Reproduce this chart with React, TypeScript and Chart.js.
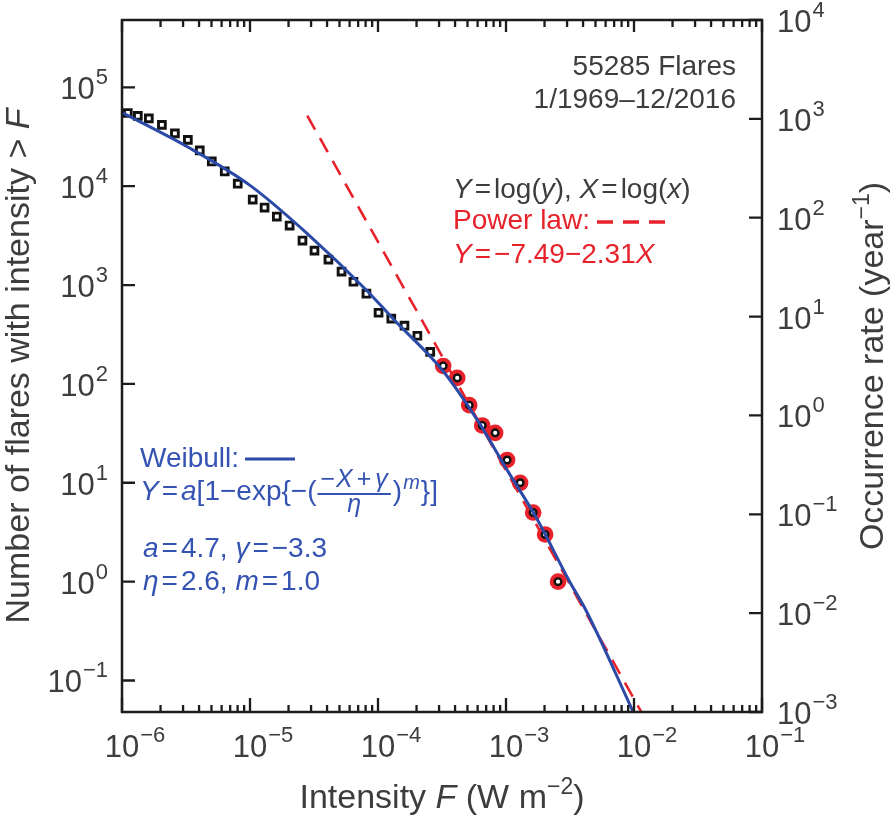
import React, { useEffect, useRef } from 'react';
import { Chart, registerables } from 'chart.js';

Chart.register(...registerables);

// ---- Data ----
// Cumulative number of flares with intensity > F (left axis)
const squareX = [1.11e-6, 1.33e-6, 1.62e-6, 2.05e-6, 2.59e-6, 3.27e-6, 4.05e-6, 5.03e-6, 6.35e-6, 8.02e-6, 1.05e-5, 1.3e-5, 1.62e-5, 2.04e-5, 2.57e-5, 3.19e-5, 4.1e-5, 5.19e-5, 6.43e-5, 8.12e-5, 1.01e-4, 1.27e-4, 1.61e-4, 2.03e-4, 2.56e-4];
const squareY = [55000, 51500, 48500, 41700, 34200, 29400, 23000, 17800, 14100, 10600, 7330, 6080, 4930, 4000, 2820, 2230, 1810, 1370, 1080, 818, 525, 457, 388, 307, 211];
// Largest events (highlighted in red)
const largeX = [3.23e-4, 4.16e-4, 5.16e-4, 6.52e-4, 8.23e-4, 1.02e-3, 1.29e-3, 1.63e-3, 2.02e-3, 2.55e-3];
const largeY = [152, 115, 61, 38, 32, 17, 10, 5, 3, 1];
// Weibull fit curve (left axis)
const weibullX = [1e-6, 3.21e-6, 1e-5, 2.8e-5, 8.2e-5, 1.31e-4, 3.21e-4, 6.24e-4, 1.03e-3, 1.73e-3, 3.13e-3, 4.25e-3, 9.9e-3, 1.32e-2];
const weibullY = [55500, 25200, 10200, 3320, 877, 457, 136, 39.4, 13.2, 4.4, 1.01, 0.502, 0.0476, 0.0215];
// Power-law line end points (right axis, occurrence rate per year)
const powerX = [2.8e-5, 1.3e-2];
const powerY = [1080, 7.4e-4];

// Axis ranges / tick exponents
const xMin = 1e-6;
const xMax = 1e-1;
const yLeftMin = 0.048;
const yLeftMax = 480000;
const yRightMin = 1e-3;
const yRightMax = 1e4;
const xTickExps = [-6, -5, -4, -3, -2, -1];
const yLeftTickExps = [-1, 0, 1, 2, 3, 4, 5];
const yRightTickExps = [-3, -2, -1, 0, 1, 2, 3, 4];

const FONT = '"Liberation Sans", Arial, Helvetica, sans-serif';
const GRAY = '#3d3d3d';
const RED = '#e8222a';
const BLUE_LINE = '#2b49a6';
const BLUE_TEXT = '#3553b3';

type Seg = { t: string; i?: boolean; s?: number; dy?: number; g?: number };

function fnt(size: number, italic?: boolean) {
  return `${italic ? 'italic ' : ''}${size}px ${FONT}`;
}

function segWidth(ctx: CanvasRenderingContext2D, segs: Seg[], base: number) {
  let w = 0;
  for (const s of segs) {
    ctx.font = fnt(s.s ?? base, s.i);
    w += ctx.measureText(s.t).width + (s.g ?? 0);
  }
  return w;
}

function rich(ctx: CanvasRenderingContext2D, segs: Seg[], x: number, y: number, color: string, base: number) {
  let cx = x;
  ctx.fillStyle = color;
  ctx.textAlign = 'left';
  ctx.textBaseline = 'alphabetic';
  for (const s of segs) {
    ctx.font = fnt(s.s ?? base, s.i);
    ctx.fillText(s.t, cx, y + (s.dy ?? 0));
    cx += ctx.measureText(s.t).width + (s.g ?? 0);
  }
  return cx;
}

function expLabel(e: number) {
  return e < 0 ? '\u2212' + Math.abs(e) : String(e);
}

const decorPlugin = {
  id: 'decor',
  afterDraw(chart: any) {
    const ctx: CanvasRenderingContext2D = chart.ctx;
    const { left, right, top, bottom } = chart.chartArea;
    const xs = chart.scales.x;
    const yl = chart.scales.y;
    const yr = chart.scales.y2;
    ctx.save();

    // frame
    ctx.strokeStyle = '#1c1c1c';
    ctx.lineWidth = 2.5;
    ctx.strokeRect(left, top, right - left, bottom - top);

    // x ticks (bottom & top), major + minor
    ctx.lineWidth = 2.3;
    ctx.beginPath();
    for (const e of xTickExps) {
      for (let m = 1; m <= 9; m++) {
        const v = m * Math.pow(10, e);
        if (v < xMin * 0.999 || v > xMax * 1.001) continue;
        const px = xs.getPixelForValue(v);
        const major = m === 1;
        ctx.moveTo(px, bottom);
        ctx.lineTo(px, bottom - (major ? 14 : 7));
        ctx.moveTo(px, top);
        ctx.lineTo(px, top + (major ? 12 : 7));
      }
    }
    for (const e of yLeftTickExps) {
      const py = yl.getPixelForValue(Math.pow(10, e));
      ctx.moveTo(left, py);
      ctx.lineTo(left + 13, py);
    }
    for (const e of yRightTickExps) {
      const py = yr.getPixelForValue(Math.pow(10, e));
      ctx.moveTo(right, py);
      ctx.lineTo(right - 13, py);
    }
    ctx.stroke();

    // tick labels
    const base = 31;
    const sup = 22;
    ctx.font = fnt(base);
    const w10 = ctx.measureText('10').width;
    for (const e of xTickExps) {
      const px = xs.getPixelForValue(Math.pow(10, e));
      rich(ctx, [{ t: '10', g: 1 }, { t: expLabel(e), s: sup, dy: -15 }], px - w10 / 2, bottom + 45, GRAY, base);
    }
    for (const e of yLeftTickExps) {
      const py = yl.getPixelForValue(Math.pow(10, e));
      const segs: Seg[] = [{ t: '10', g: 1 }, { t: expLabel(e), s: sup, dy: -15 }];
      const w = segWidth(ctx, segs, base);
      rich(ctx, segs, left - 14 - w, py + 12, GRAY, base);
    }
    for (const e of yRightTickExps) {
      const py = yr.getPixelForValue(Math.pow(10, e));
      rich(ctx, [{ t: '10', g: 1 }, { t: expLabel(e), s: sup, dy: -15 }], right + 15, py + 12, GRAY, base);
    }

    // axis titles
    const tsz = 34;
    const xt: Seg[] = [{ t: 'Intensity ' }, { t: 'F', i: true }, { t: ' (W m' }, { t: '\u22122', s: 23, dy: -14 }, { t: ')' }];
    const xtw = segWidth(ctx, xt, tsz);
    rich(ctx, xt, (left + right) / 2 - xtw / 2, 808, GRAY, tsz);

    const lt: Seg[] = [{ t: 'Number of flares with intensity > ' }, { t: 'F', i: true }];
    const ltw = segWidth(ctx, lt, tsz);
    ctx.save();
    ctx.translate(29, (top + bottom) / 2);
    ctx.rotate(-Math.PI / 2);
    rich(ctx, lt, -ltw / 2, 0, GRAY, tsz);
    ctx.restore();

    const rt: Seg[] = [{ t: 'Occurrence rate (year' }, { t: '\u22121', s: 23, dy: -14 }, { t: ')' }];
    const rtw = segWidth(ctx, rt, tsz);
    ctx.save();
    ctx.translate(883, (top + bottom) / 2);
    ctx.rotate(-Math.PI / 2);
    rich(ctx, rt, -rtw / 2, 0, GRAY, tsz);
    ctx.restore();

    // annotations (top right)
    const asz = 28;
    ctx.font = fnt(asz);
    ctx.fillStyle = GRAY;
    ctx.textAlign = 'right';
    ctx.fillText('55285 Flares', 736, 75);
    ctx.fillText('1/1969\u201312/2016', 736, 108);

    rich(ctx, [
      { t: 'Y', i: true, g: 3 }, { t: '=', g: 3 }, { t: 'log(' }, { t: 'y', i: true }, { t: '), ' },
      { t: 'X', i: true, g: 3 }, { t: '=', g: 3 }, { t: 'log(' }, { t: 'x', i: true }, { t: ')' },
    ], 453, 198, GRAY, asz);
    rich(ctx, [{ t: 'Power law:' }], 453, 229, RED, asz);
    rich(ctx, [{ t: 'Y', i: true, g: 3 }, { t: '=', g: 3 }, { t: '\u22127.49\u22122.31' }, { t: 'X', i: true }], 453, 263, RED, asz);

    ctx.strokeStyle = RED;
    ctx.lineWidth = 3.5;
    ctx.setLineDash([16, 10]);
    ctx.beginPath();
    ctx.moveTo(597, 222);
    ctx.lineTo(665, 222);
    ctx.stroke();
    ctx.setLineDash([]);

    // Weibull annotation (left)
    rich(ctx, [{ t: 'Weibull:' }], 140, 467, BLUE_TEXT, asz);
    ctx.strokeStyle = BLUE_LINE;
    ctx.lineWidth = 3.2;
    ctx.beginPath();
    ctx.moveTo(245, 459);
    ctx.lineTo(295, 459);
    ctx.stroke();

    const fx = rich(ctx, [
      { t: 'Y', i: true, g: 3 }, { t: '=', g: 3 }, { t: 'a', i: true }, { t: '[1\u2212exp{\u2212(' },
    ], 140, 500, BLUE_TEXT, asz);
    const numSegs: Seg[] = [{ t: '\u2212', g: 1 }, { t: 'X', i: true, g: 4 }, { t: '+', g: 4 }, { t: '\u03b3', i: true }];
    const nsz = 25;
    const nw = segWidth(ctx, numSegs, nsz);
    const barL = fx + 1;
    const barR = barL + nw + 6;
    rich(ctx, numSegs, barL + 3, 487, BLUE_TEXT, nsz);
    ctx.strokeStyle = BLUE_TEXT;
    ctx.lineWidth = 1.8;
    ctx.beginPath();
    ctx.moveTo(barL, 494);
    ctx.lineTo(barR, 494);
    ctx.stroke();
    ctx.font = fnt(nsz, true);
    const ew = ctx.measureText('\u03b7').width;
    rich(ctx, [{ t: '\u03b7', i: true }], (barL + barR) / 2 - ew / 2, 512, BLUE_TEXT, nsz);
    rich(ctx, [{ t: ')', g: 1 }, { t: 'm', i: true, s: 20, dy: -11, g: 1 }, { t: '}]' }], barR + 2, 500, BLUE_TEXT, asz);

    rich(ctx, [
      { t: 'a', i: true, g: 3 }, { t: '=', g: 3 }, { t: '4.7, ' },
      { t: '\u03b3', i: true, g: 3 }, { t: '=', g: 3 }, { t: '\u22123.3' },
    ], 143, 557, BLUE_TEXT, asz);
    rich(ctx, [
      { t: '\u03b7', i: true, g: 3 }, { t: '=', g: 3 }, { t: '2.6, ' },
      { t: 'm', i: true, g: 3 }, { t: '=', g: 3 }, { t: '1.0' },
    ], 143, 590, BLUE_TEXT, asz);

    ctx.restore();
  },
};

export default function App() {
  const ref = useRef<HTMLCanvasElement>(null);
  useEffect(() => {
    const canvas = ref.current;
    if (!canvas) return;
    const pts = (xs: number[], ys: number[]) => xs.map((x, i) => ({ x, y: ys[i] }));
    const chart = new Chart(canvas, {
      type: 'scatter',
      data: {
        datasets: [
          {
            label: 'Weibull',
            data: pts(weibullX, weibullY),
            showLine: true,
            borderColor: BLUE_LINE,
            borderWidth: 3,
            pointRadius: 0,
            cubicInterpolationMode: 'monotone',
            yAxisID: 'y',
            order: 1,
          },
          {
            label: 'Large events (rings)',
            data: pts(largeX, largeY),
            pointStyle: 'circle',
            pointRadius: 3.3,
            borderWidth: 2.4,
            borderColor: '#111',
            backgroundColor: '#fff',
            yAxisID: 'y',
            order: 2,
          },
          {
            label: 'Flares',
            data: pts(squareX, squareY),
            pointStyle: 'rect',
            pointRadius: 4.8,
            borderWidth: 2.9,
            borderColor: '#111',
            backgroundColor: '#fff',
            yAxisID: 'y',
            order: 3,
          },
          {
            label: 'Power law',
            data: pts(powerX, powerY),
            showLine: true,
            borderColor: RED,
            borderWidth: 2.6,
            borderDash: [16, 10],
            pointRadius: 0,
            yAxisID: 'y2',
            order: 4,
          },
          {
            label: 'Large events',
            data: pts(largeX, largeY),
            pointStyle: 'circle',
            pointRadius: 8.3,
            borderWidth: 0,
            backgroundColor: RED,
            yAxisID: 'y',
            order: 5,
          },
        ] as any,
      },
      options: {
        animation: false,
        responsive: false,
        maintainAspectRatio: false,
        devicePixelRatio: 1,
        layout: { padding: { left: 122, top: 20, right: 132, bottom: 104 } },
        plugins: { legend: { display: false }, tooltip: { enabled: false } },
        events: [],
        scales: {
          x: { type: 'logarithmic', min: xMin, max: xMax, display: false },
          y: { type: 'logarithmic', min: yLeftMin, max: yLeftMax, display: false, position: 'left' },
          y2: { type: 'logarithmic', min: yRightMin, max: yRightMax, display: false, position: 'right' },
        },
      } as any,
      plugins: [decorPlugin],
    });
    return () => chart.destroy();
  }, []);
  return (
    <div style={{ position: 'fixed', left: 0, top: 0, width: 894, height: 816, background: '#fff' }}>
      <canvas ref={ref} width={894} height={816} style={{ display: 'block', width: 894, height: 816 }} />
    </div>
  );
}
